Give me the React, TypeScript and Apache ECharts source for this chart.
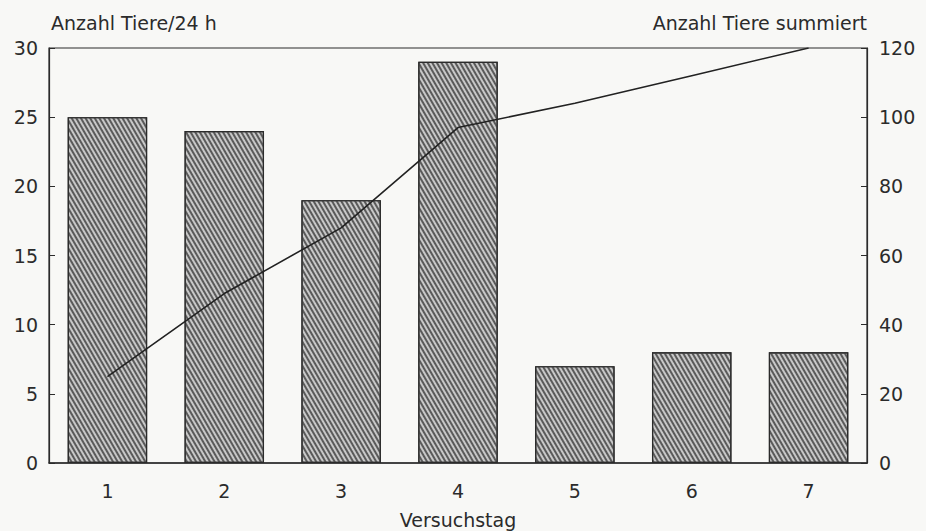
import React, { useEffect, useRef } from "react";
import * as echarts from "echarts";

const days = ["1", "2", "3", "4", "5", "6", "7"];
const perDay = [25, 24, 19, 29, 7, 8, 8];
const cumulative = [25, 49, 68, 97, 104, 112, 120];
const leftTitle = "Anzahl Tiere/24 h";
const rightTitle = "Anzahl Tiere summiert";
const xTitle = "Versuchstag";

const FONT = "'DejaVu Sans', Verdana, sans-serif";
const INK = "#2b2b2b";
const FS = 19;

export default function App() {
  const ref = useRef<HTMLDivElement>(null);
  useEffect(() => {
    document.body.style.margin = "0";
    document.body.style.background = "#f8f8f6";
    const chart = echarts.init(ref.current!, null, { renderer: "svg" });
    chart.setOption({
      animation: false,
      backgroundColor: "#f8f8f6",
      grid: {
        left: 49,
        right: 59,
        top: 48,
        bottom: 68,
        outerBoundsMode: "none",
        containLabel: false,
        show: true,
        borderColor: INK,
        borderWidth: 1.2,
        backgroundColor: "transparent",
      },
      xAxis: {
        type: "category",
        data: days,
        name: xTitle,
        nameLocation: "middle",
        nameGap: 47,
        nameTextStyle: { color: INK, fontFamily: FONT, fontSize: FS },
        axisLine: { lineStyle: { color: INK, width: 1.5 } },
        axisTick: { show: true, inside: true, alignWithLabel: true, length: 5, lineStyle: { color: INK } },
        axisLabel: { color: INK, fontFamily: FONT, fontSize: FS, margin: 18 },
      },
      yAxis: [
        {
          type: "value",
          min: 0,
          max: 30,
          interval: 5,
          name: leftTitle,
          nameLocation: "end",
          nameGap: 16,
          nameTextStyle: { color: INK, fontFamily: FONT, fontSize: FS, align: "left", padding: [0, 0, 0, 2] },
          axisLine: { show: true, lineStyle: { color: INK, width: 1.2 } },
          axisTick: { show: true, inside: true, length: 6, lineStyle: { color: INK } },
          axisLabel: { color: INK, fontFamily: FONT, fontSize: FS, margin: 11 },
          splitLine: { show: false },
        },
        {
          type: "value",
          min: 0,
          max: 120,
          interval: 20,
          position: "right",
          name: rightTitle,
          nameLocation: "end",
          nameGap: 16,
          nameTextStyle: { color: INK, fontFamily: FONT, fontSize: FS, align: "right", padding: [0, 0, 0, 0] },
          axisLine: { show: true, lineStyle: { color: INK, width: 1.2 } },
          axisTick: { show: true, inside: true, length: 6, lineStyle: { color: INK } },
          axisLabel: { color: INK, fontFamily: FONT, fontSize: FS, margin: 12 },
          splitLine: { show: false },
        },
      ],
      series: [
        {
          type: "bar",
          data: perDay,
          barWidth: "68%",
          itemStyle: {
            color: "#c8c8c8",
            borderColor: INK,
            borderWidth: 1.2,
            decal: {
              symbol: "rect",
              symbolSize: 1,
              color: "#5a5a5a",
              backgroundColor: "#e2e2e2",
              dashArrayX: [1, 0],
              dashArrayY: [1.2, 2],
              rotation: Math.PI / 3,
            },
          },
        },
        {
          type: "line",
          yAxisIndex: 1,
          data: cumulative,
          showSymbol: false,
          symbol: "none",
          lineStyle: { color: "#222", width: 1.6 },
          z: 5,
        },
      ],
    });
    return () => chart.dispose();
  }, []);
  return <div ref={ref} style={{ width: 926, height: 531 }} />;
}
